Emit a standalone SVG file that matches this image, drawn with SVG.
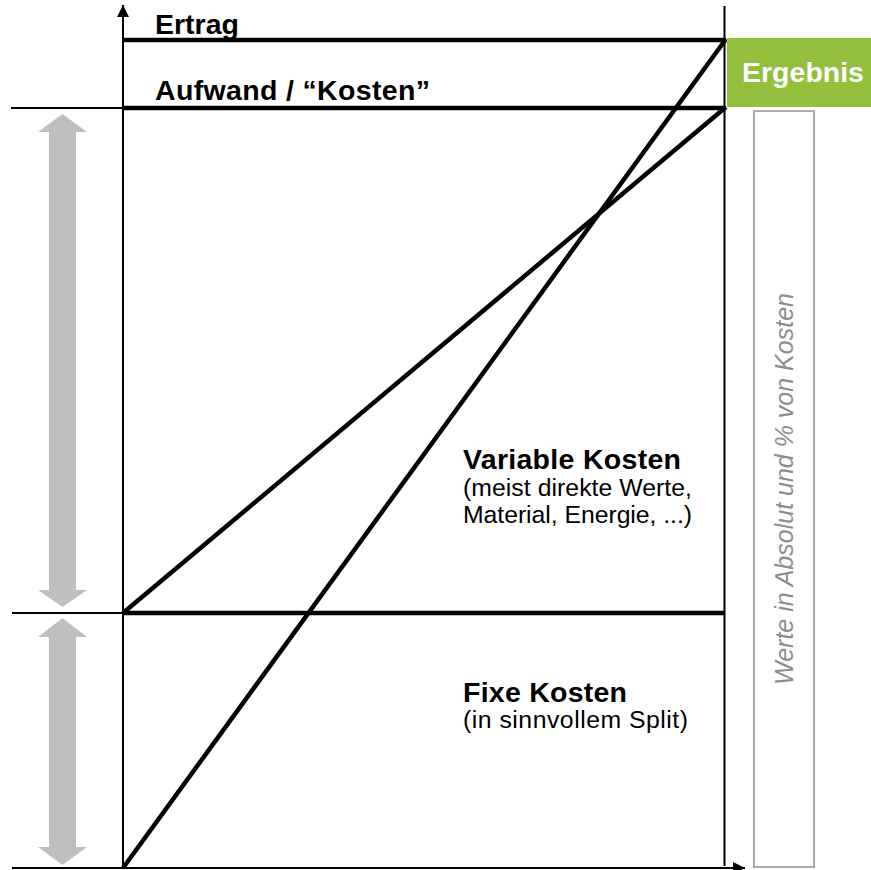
<svg xmlns="http://www.w3.org/2000/svg" width="871" height="870" viewBox="0 0 871 870">
<style>
.b{font-family:"Liberation Sans",Arial,sans-serif;font-weight:bold;font-size:28.5px;fill:#000}
.r{font-family:"Liberation Sans",Arial,sans-serif;font-size:24.8px;fill:#000}
.thick{stroke:#000;stroke-width:4.5;fill:none}
.thin{stroke:#000;stroke-width:2;fill:none}
.garrow{fill:#BFBFBF}
</style>
<defs>
<marker id="ah" markerWidth="12" markerHeight="12" refX="12" refY="6" orient="auto" markerUnits="userSpaceOnUse">
<path d="M0,0 L12,6 L0,12 Z" fill="#000"/>
</marker>
</defs>
<rect width="871" height="870" fill="#fff"/>
<g id="connectors">
<line class="thin" x1="123" y1="868" x2="123" y2="5" marker-end="url(#ah)"/>
<line class="thin" x1="12" y1="868" x2="745" y2="868" marker-end="url(#ah)"/>
<line class="thin" x1="724.5" y1="6" x2="724.5" y2="866"/>
<line class="thin" x1="11" y1="108" x2="123" y2="108"/>
<line class="thin" x1="12" y1="613" x2="123" y2="613"/>
<line class="thick" x1="123" y1="40" x2="726" y2="40"/>
<line class="thick" x1="123" y1="108" x2="726" y2="108"/>
<line class="thick" x1="123" y1="613" x2="724" y2="613"/>
<line class="thick" x1="123" y1="868" x2="726" y2="39"/>
<line class="thick" x1="123" y1="613" x2="726" y2="107"/>
</g>
<g id="arrow-variable">
<path class="garrow" d="M62.5,114 L87,132 L76,132 L76,590 L87,590 L62.5,607 L38,590 L49,590 L49,132 L38,132 Z"/>
</g>
<g id="arrow-fix">
<path class="garrow" d="M62.5,618 L87,637 L76,637 L76,847 L87,847 L62.5,865 L38,847 L49,847 L49,637 L38,637 Z"/>
</g>
<g id="ertrag"><text class="b" x="155" y="34">Ertrag</text></g>
<g id="aufwand"><text class="b" x="155" y="100" textLength="275">Aufwand / “Kosten”</text></g>
<g id="ergebnis">
<rect x="727" y="38" width="144" height="69" fill="#92C03C"/>
<text class="b" x="803" y="82" text-anchor="middle" style="fill:#fff">Ergebnis</text>
</g>
<g id="werte">
<rect x="754" y="111" width="60" height="756" fill="none" stroke="#AAAAAA" stroke-width="2"/>
<text x="0" y="0" transform="translate(793,489) rotate(-90)" text-anchor="middle" font-family="Liberation Sans, Arial, sans-serif" font-style="italic" font-size="25" fill="#8C8C8C">Werte in Absolut und % von Kosten</text>
</g>
<g id="variable">
<text class="b" x="463" y="469" textLength="218">Variable Kosten</text>
<text class="r" x="463" y="496" textLength="229">(meist direkte Werte,</text>
<text class="r" x="463" y="523" textLength="229">Material, Energie, ...)</text>
</g>
<g id="fix">
<text class="b" x="463" y="702" textLength="164">Fixe Kosten</text>
<text class="r" x="463" y="728" textLength="225">(in sinnvollem Split)</text>
</g>
</svg>
